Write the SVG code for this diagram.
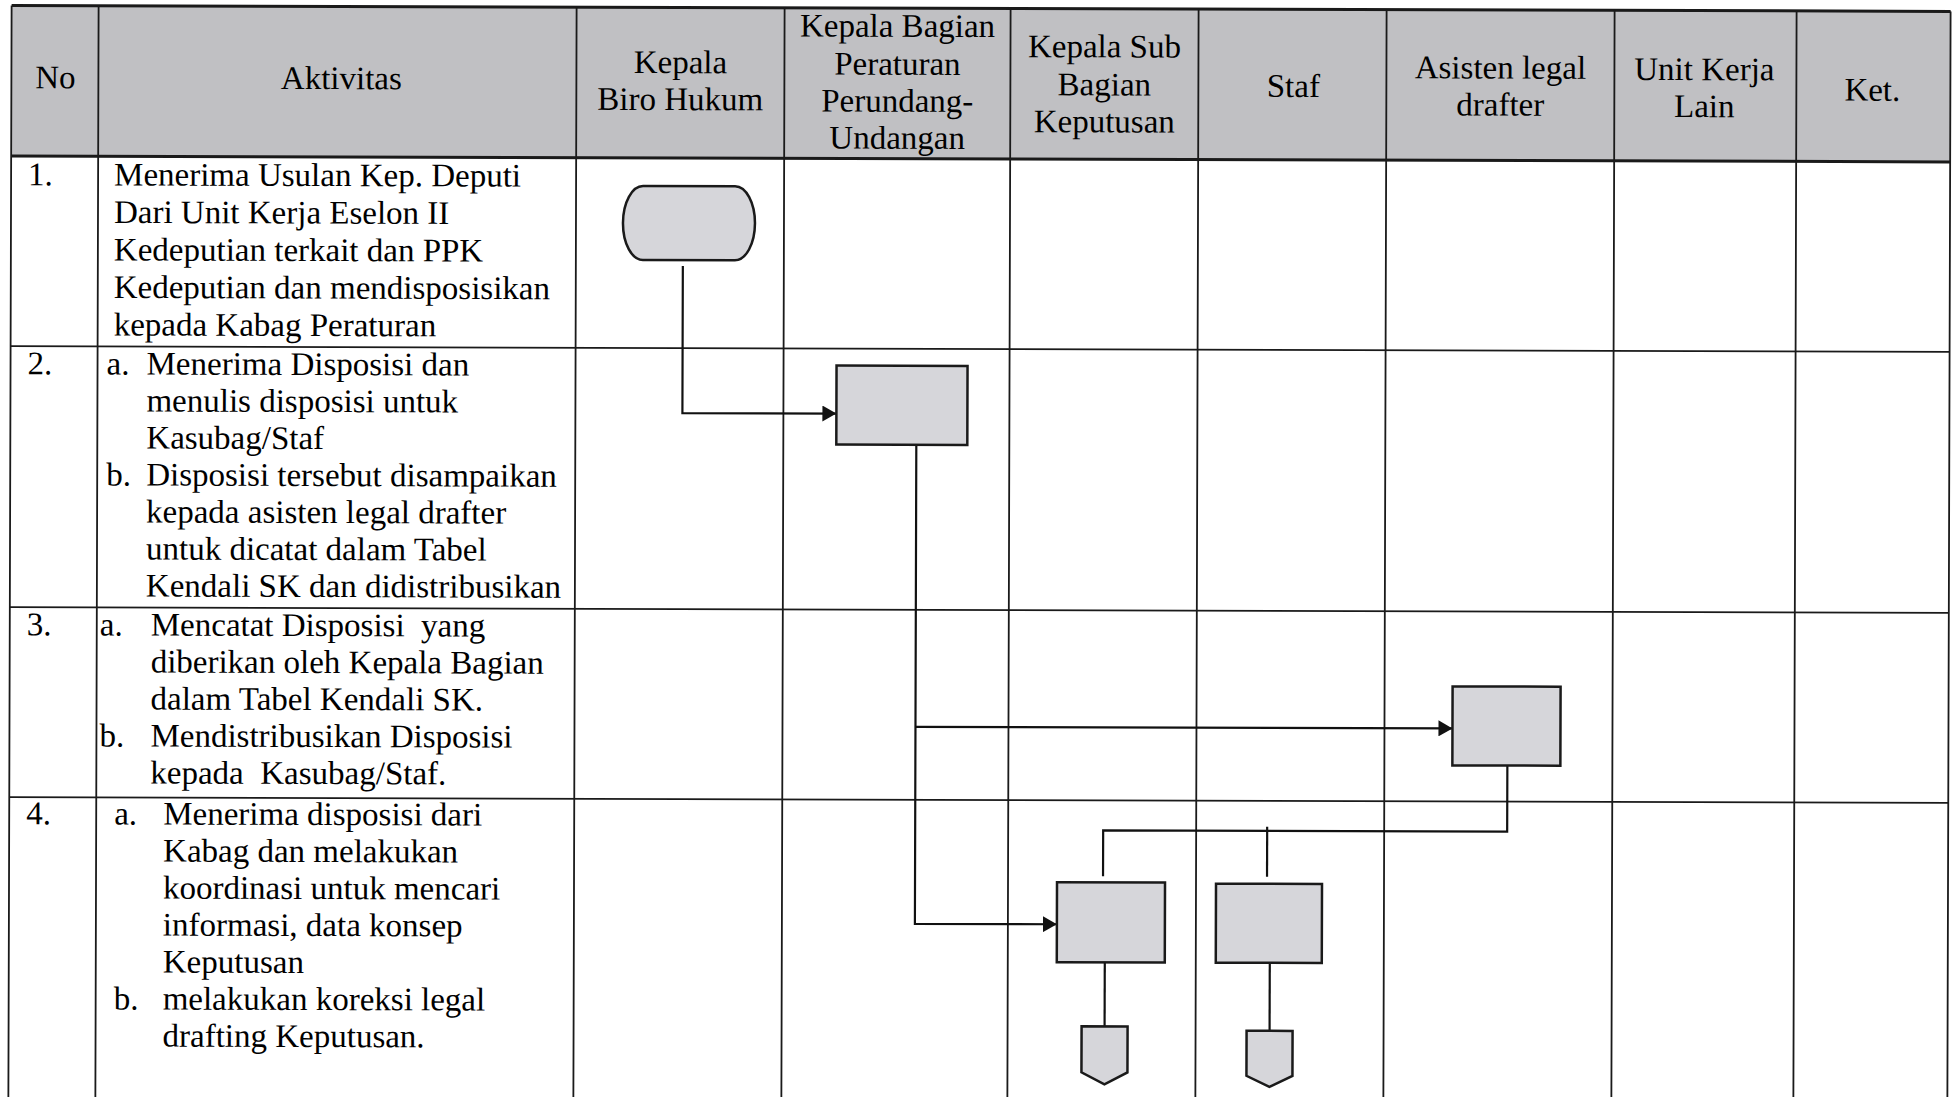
<svg xmlns="http://www.w3.org/2000/svg" width="1953" height="1097" viewBox="0 0 1953 1097">
<style>
.t{font-family:"Liberation Serif","Times New Roman",serif;font-size:33px;fill:#000}
.h{text-anchor:middle}
.g{stroke:#1a1a1a;stroke-width:1.8;fill:none}
.gb{stroke:#1a1a1a;stroke-width:3;fill:none}
.n{fill:#d6d6da;stroke:#1a1a1a;stroke-width:2.5}
.c{stroke:#111;stroke-width:2.2;fill:none}
</style>
<defs>
<marker id="ah" markerUnits="userSpaceOnUse" markerWidth="15" markerHeight="16" refX="14" refY="8" orient="auto">
<path d="M0,0 L14,8 L0,16 z" fill="#111"/>
</marker>
</defs>
<rect width="1953" height="1097" fill="#fff"/>
<g transform="rotate(0.17 980 550)">
<g id="table">
<rect x="10" y="8.5" width="1939" height="150.5" fill="#c0c0c3"/>
<path class="gb" d="M10,8.5 H1949 M10,159 H1949"/>
<path class="g" d="M10,349 H1949 M10,610 H1949 M10,800 H1949"/>
<path class="g" d="M10,8.5 V1100 M97,8.5 V1100 M575,8.5 V1100 M783,8.5 V1100 M1009,8.5 V1100 M1197,8.5 V1100 M1385,8.5 V1100 M1613,8.5 V1100 M1795,8.5 V1100 M1949,8.5 V1100"/>
<g class="t h">
<text x="54" y="91">No</text>
<text x="340" y="91">Aktivitas</text>
<text x="679" y="74">Kepala</text>
<text x="679" y="111">Biro Hukum</text>
<text x="896" y="37">Kepala Bagian</text>
<text x="896" y="75">Peraturan</text>
<text x="896" y="112">Perundang-</text>
<text x="896" y="149">Undangan</text>
<text x="1103" y="57">Kepala Sub</text>
<text x="1103" y="95">Bagian</text>
<text x="1103" y="132">Keputusan</text>
<text x="1292" y="96">Staf</text>
<text x="1499" y="77">Asisten legal</text>
<text x="1499" y="114">drafter</text>
<text x="1703" y="78">Unit Kerja</text>
<text x="1703" y="115">Lain</text>
<text x="1871" y="98">Ket.</text>
</g>
<g class="t">
<text x="27" y="188">1.</text>
<text x="113" y="188">Menerima Usulan Kep. Deputi</text>
<text x="113" y="225.5">Dari Unit Kerja Eselon II</text>
<text x="113" y="263">Kedeputian terkait dan PPK</text>
<text x="113" y="300.5">Kedeputian dan mendisposisikan</text>
<text x="113" y="338">kepada Kabag Peraturan</text>
<text x="27" y="377">2.</text>
<text x="106" y="377">a.</text>
<text x="146" y="377">Menerima Disposisi dan</text>
<text x="146" y="414">menulis disposisi untuk</text>
<text x="146" y="451">Kasubag/Staf</text>
<text x="106" y="488">b.</text>
<text x="146" y="488">Disposisi tersebut disampaikan</text>
<text x="146" y="525">kepada asisten legal drafter</text>
<text x="146" y="562">untuk dicatat dalam Tabel</text>
<text x="146" y="599">Kendali SK dan didistribusikan</text>
<text x="27" y="638">3.</text>
<text x="100" y="638">a.</text>
<text x="151" y="638" xml:space="preserve">Mencatat Disposisi  yang</text>
<text x="151" y="675">diberikan oleh Kepala Bagian</text>
<text x="151" y="712">dalam Tabel Kendali SK.</text>
<text x="100" y="749">b.</text>
<text x="151" y="749">Mendistribusikan Disposisi</text>
<text x="151" y="786" xml:space="preserve">kepada  Kasubag/Staf.</text>
<text x="27" y="827">4.</text>
<text x="115" y="827">a.</text>
<text x="164" y="827">Menerima disposisi dari</text>
<text x="164" y="864">Kabag dan melakukan</text>
<text x="164" y="901">koordinasi untuk mencari</text>
<text x="164" y="938">informasi, data konsep</text>
<text x="164" y="975">Keputusan</text>
<text x="115" y="1012">b.</text>
<text x="164" y="1012">melakukan koreksi legal</text>
<text x="164" y="1049">drafting Keputusan.</text>
</g>
</g>
<g id="connectors">
<path class="c" d="M682,267 V414 H836" marker-end="url(#ah)"/>
<path class="c" d="M916,445 V924 H1058" marker-end="url(#ah)"/>
<path class="c" d="M916,727 H1453" marker-end="url(#ah)"/>
<path class="c" d="M1508,764 V830 H1104 V876"/>
<path class="c" d="M1268,826 V876"/>
<path class="c" d="M1106,962 V1026"/>
<path class="c" d="M1271,962 V1030"/>
</g>
<g id="n1-start"><path class="n" d="M642,187 H734 A20,37 0 0 1 734,261 H642 A20,37 0 0 1 642,187 Z"/></g>
<g id="n2-kabag"><rect class="n" x="836" y="366" width="131" height="79"/></g>
<g id="n3-asisten"><rect class="n" x="1453" y="685" width="108" height="79"/></g>
<g id="n4-kasubag"><rect class="n" x="1058" y="882" width="108" height="80"/></g>
<g id="n5-staf"><rect class="n" x="1217" y="883" width="106" height="79"/></g>
<g id="n6-offpage1"><polygon class="n" points="1083,1026 1129,1026 1129,1072 1106,1084 1083,1072"/></g>
<g id="n7-offpage2"><polygon class="n" points="1248,1030 1294,1030 1294,1075 1271,1086 1248,1075"/></g>
</g>
</svg>
